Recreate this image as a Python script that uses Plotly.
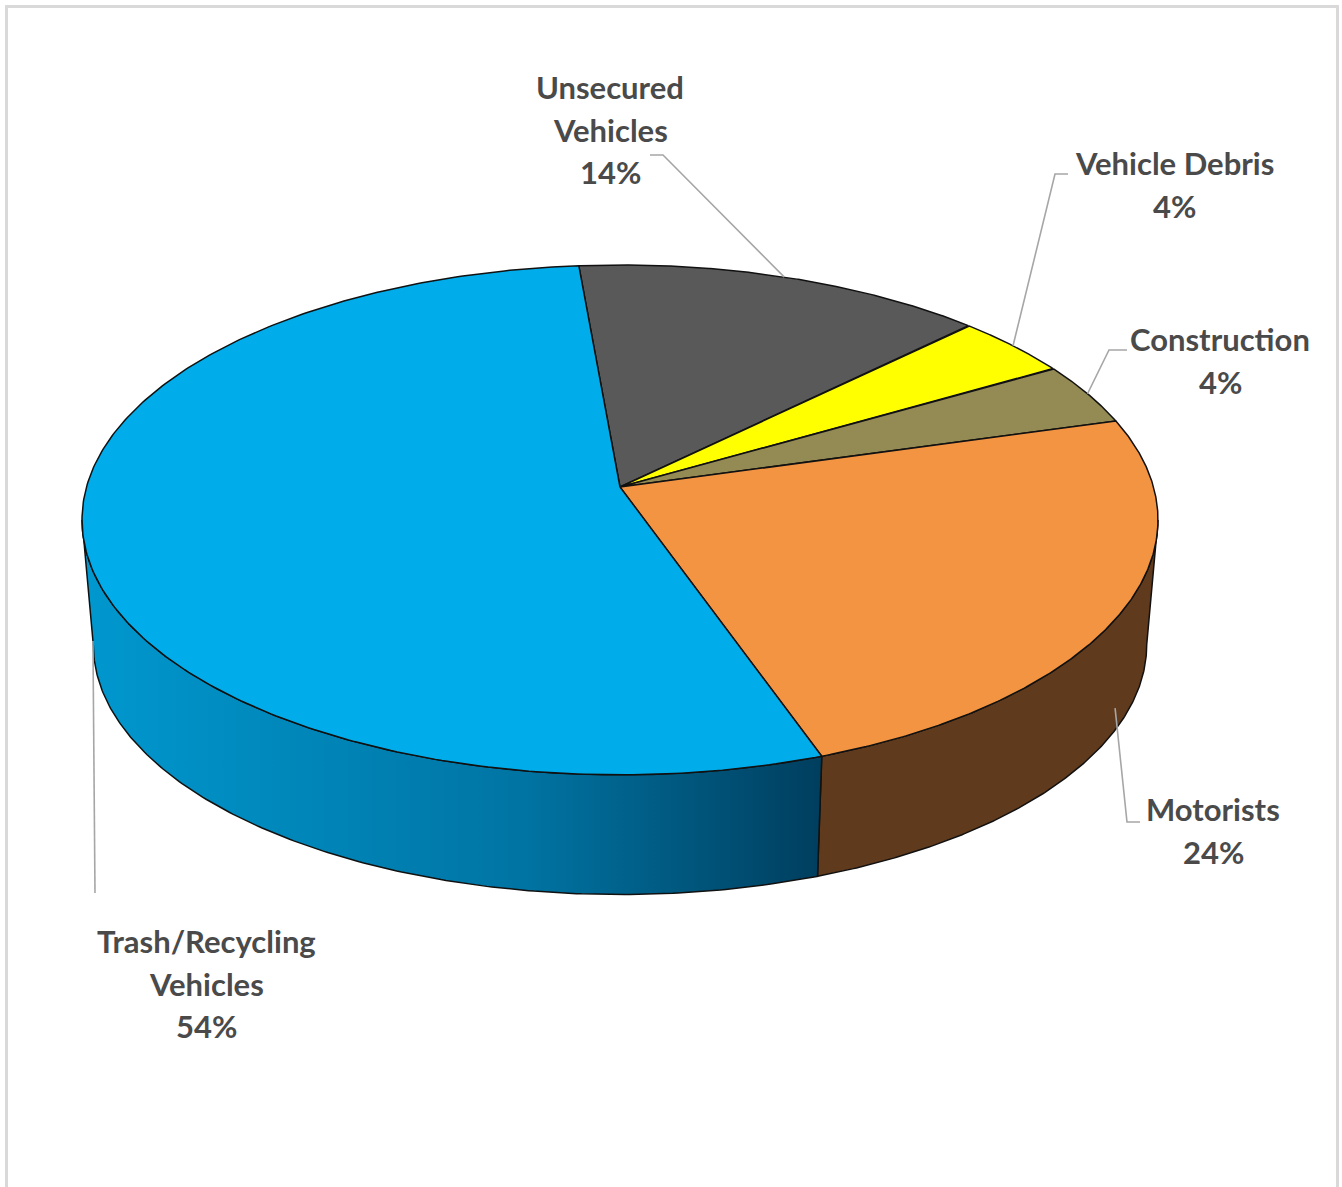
import numpy as np
import plotly.graph_objects as go

# Data
categories = ["Unsecured Vehicles", "Vehicle Debris", "Construction", "Motorists", "Trash/Recycling Vehicles"]
shares = [14, 4, 4, 24, 54]
label_names = [["Unsecured", "Vehicles"], ["Vehicle Debris"], ["Construction"], ["Motorists"],
               ["Trash/Recycling", "Vehicles"]]

# Styling
top_colors = ["#595959", "#FFFF00", "#948A54", "#F39443", "#00ADEA"]
side_colors = ["#3A3A3A", "#A6A600", "#605A36", "#603A1C", None]
trash_side_scale = [[0.0, "#0098CF"], [0.6, "#0074A3"], [1.0, "#003E5E"]]
text_color = "#4A4A4A"
leader_color = "#A6A6A6"
outline = "#111111"

# Pie geometry (screen units, y grows downward)
CX, CY = 620.0, 487.0
RX, RY, PERSP = 533.5, 250.7, 0.129
DEPTH, SHRINK = 125.7, 0.979
START_ANGLE = -5.0

# Label anchors: (centre x, y of first line) and leader elbow path start
label_pos = [(610, 87), (1174, 163), (1220, 339), (1213, 809), (206, 941)]
LINE_GAP = 42.5
leader_start = [
    [(650, 155), (663, 155)],
    [(1068, 174), (1055, 174)],
    [(1127, 350), (1109, 350)],
    [(1140, 822), (1127, 822)],
    [(95, 893)],
]


def project(theta_deg, level=0.0):
    """Project a rim point (clockwise angle from the top) of the tilted disc.
    level 0 = top face, 1 = bottom face."""
    t = np.radians(theta_deg)
    u, v = np.sin(t), np.cos(t)
    s = 1.0 + PERSP * v
    sc = 1.0 + (SHRINK - 1.0) * level
    x = CX + sc * RX * u / s
    y = CY + DEPTH * level - sc * RY * v / s
    return x, y


total = float(sum(shares))
edges = START_ANGLE + 360.0 * np.concatenate([[0.0], np.cumsum(shares)]) / total
vis_lo = np.degrees(np.arccos(-PERSP))
vis_hi = 360.0 - vis_lo

fig = go.Figure()

# Side walls (front half only)
for i, name in enumerate(categories):
    lo, hi = max(edges[i], vis_lo), min(edges[i + 1], vis_hi)
    if hi <= lo:
        continue
    th = np.linspace(lo, hi, 200)
    xt, yt = project(th, 0.0)
    xb, yb = project(th[::-1], 1.0)
    xs = np.concatenate([xt, xb, xt[:1]])
    ys = np.concatenate([yt, yb, yt[:1]])
    kw = dict(fillcolor=side_colors[i]) if side_colors[i] else dict(
        fillgradient=dict(type="horizontal", colorscale=trash_side_scale))
    fig.add_trace(go.Scatter(x=xs, y=ys, mode="lines", fill="toself",
                             line=dict(color=outline, width=1.5),
                             hoverinfo="skip", name=name, **kw))

# Top face slices
for i, name in enumerate(categories):
    th = np.linspace(edges[i], edges[i + 1], 300)
    xa, ya = project(th, 0.0)
    xs = np.concatenate([[CX], xa, [CX]])
    ys = np.concatenate([[CY], ya, [CY]])
    fig.add_trace(go.Scatter(x=xs, y=ys, mode="lines", fill="toself",
                             fillcolor=top_colors[i],
                             line=dict(color=outline, width=1.5),
                             hoverinfo="skip", name=name))

# Leader lines and data labels
mids = (edges[:-1] + edges[1:]) / 2.0
for i, name in enumerate(categories):
    m = mids[i]
    if vis_lo < m < vis_hi:
        ex, ey = project(m, 0.8)
    else:
        ex, ey = project(m, 0.0)
    pts = leader_start[i] + [(float(ex), float(ey))]
    fig.add_trace(go.Scatter(x=[p[0] for p in pts], y=[p[1] for p in pts],
                             mode="lines", line=dict(color=leader_color, width=1.6),
                             hoverinfo="skip", name=name + " leader"))
    lines = label_names[i] + [f"{shares[i]}%"]
    for j, txt in enumerate(lines):
        fig.add_annotation(x=label_pos[i][0], y=label_pos[i][1] + j * LINE_GAP,
                           xref="x", yref="y", text=txt, showarrow=False,
                           xanchor="center", yanchor="middle", align="center",
                           font=dict(family="Lato", size=31, color=text_color, weight=700))

# Chart frame
fig.add_shape(type="path", xref="x", yref="y",
              path="M 6.5 1220 L 6.5 6.5 L 1337.5 6.5 L 1337.5 1220",
              line=dict(color="#D9D9D9", width=3))

fig.update_layout(
    width=1342, height=1187,
    margin=dict(l=0, r=0, t=0, b=0),
    paper_bgcolor="white", plot_bgcolor="white",
    showlegend=False,
    xaxis=dict(range=[0, 1342], visible=False, fixedrange=True),
    yaxis=dict(range=[1187, 0], visible=False, fixedrange=True),
)

fig.write_html("out.html")
